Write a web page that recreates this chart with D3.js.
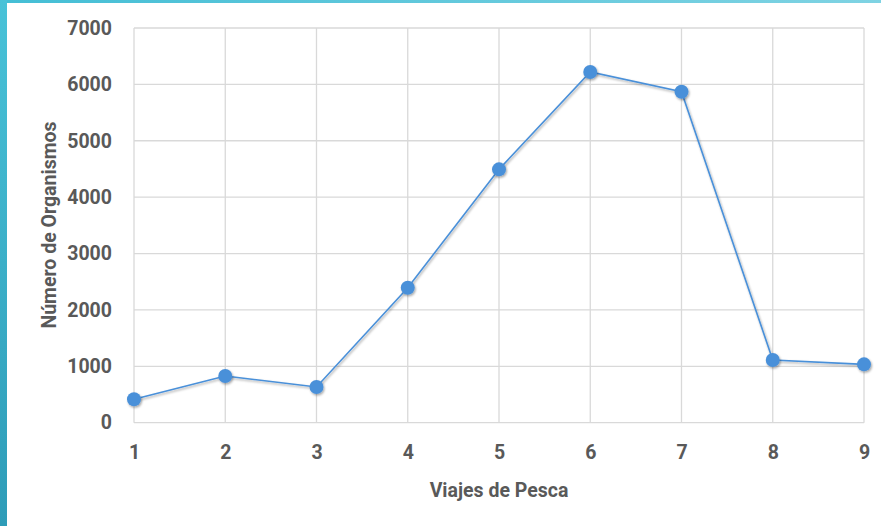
<!DOCTYPE html>
<html>
<head>
<meta charset="utf-8">
<script src="https://cdn.jsdelivr.net/npm/d3@7"></script>
<style>
  html, body { margin: 0; padding: 0; background: #fff; }
  svg { display: block; }
</style>
</head>
<body>
<svg id="chart" width="881" height="526"></svg>
<script>
const trips = [1, 2, 3, 4, 5, 6, 7, 8, 9];
const organisms = [415, 828, 633, 2394, 4493, 6220, 5869, 1112, 1035];
const yTicks = [0, 1000, 2000, 3000, 4000, 5000, 6000, 7000];
const xTitle = "Viajes de Pesca";
const yTitle = "Número de Organismos";

const W = 881, H = 526;
const m = { left: 134, right: 17, top: 28, bottom: 103.3 };
const svg = d3.select("#chart");

const defs = svg.append("defs");
const lg = defs.append("linearGradient").attr("id", "leftStrip").attr("x1", 0).attr("y1", 0).attr("x2", 0).attr("y2", 1);
lg.append("stop").attr("offset", "0%").attr("stop-color", "#48c2d8");
lg.append("stop").attr("offset", "100%").attr("stop-color", "#2e9cb8");
const tg = defs.append("linearGradient").attr("id", "topStrip").attr("x1", 0).attr("y1", 0).attr("x2", 1).attr("y2", 0);
tg.append("stop").attr("offset", "0%").attr("stop-color", "#44bed5");
tg.append("stop").attr("offset", "100%").attr("stop-color", "#7fd3e3");
const sh = defs.append("filter").attr("id", "shadow").attr("x", "-50%").attr("y", "-50%").attr("width", "200%").attr("height", "200%");
sh.append("feDropShadow").attr("dx", 1).attr("dy", 1.5).attr("stdDeviation", 1.3).attr("flood-color", "#000").attr("flood-opacity", 0.35);

svg.append("rect").attr("x", 0).attr("y", 0).attr("width", W).attr("height", H).attr("fill", "#fff");
svg.append("rect").attr("x", 0).attr("y", 0).attr("width", W).attr("height", 3).attr("fill", "url(#topStrip)");
svg.append("rect").attr("x", 0).attr("y", 0).attr("width", 7).attr("height", H).attr("fill", "url(#leftStrip)");

const x = d3.scaleLinear().domain([1, 9]).range([m.left, W - m.right]);
const y = d3.scaleLinear().domain([0, 7000]).range([H - m.bottom, m.top]);

const font = "Roboto, 'Open Sans', sans-serif";
const textColor = "#595959";
const gridColor = "#d9d9d9";

// horizontal gridlines
svg.append("g").selectAll("line").data(yTicks).join("line")
  .attr("x1", m.left).attr("x2", W - m.right)
  .attr("y1", d => y(d)).attr("y2", d => y(d))
  .attr("stroke", gridColor).attr("stroke-width", 1.3);
// vertical gridlines
svg.append("g").selectAll("line").data(trips).join("line")
  .attr("x1", d => x(d)).attr("x2", d => x(d))
  .attr("y1", y(0)).attr("y2", y(7000))
  .attr("stroke", gridColor).attr("stroke-width", 1.3);

// axes (labels only)
const yAxis = d3.axisLeft(y).tickValues(yTicks).tickSize(0).tickPadding(22).tickFormat(d3.format("d"));
const gy = svg.append("g").attr("transform", `translate(${m.left},0)`).call(yAxis);
gy.select(".domain").remove();
gy.selectAll("text").attr("font-family", font).attr("font-weight", "bold").attr("font-size", 19.5).attr("fill", textColor);

const xAxis = d3.axisBottom(x).tickValues(trips).tickSize(0).tickPadding(22).tickFormat(d3.format("d"));
const gx = svg.append("g").attr("transform", `translate(0,${y(0)})`).call(xAxis);
gx.select(".domain").remove();
gx.selectAll("text").attr("font-family", font).attr("font-weight", "bold").attr("font-size", 19.5).attr("fill", textColor);

// line
const pts = trips.map((t, i) => [t, organisms[i]]);
const line = d3.line().x(d => x(d[0])).y(d => y(d[1]));
svg.append("path").datum(pts).attr("d", line)
  .attr("fill", "none").attr("stroke", "#4a90d9").attr("stroke-width", 1.6)
  .attr("filter", "url(#shadow)");

svg.append("g").selectAll("circle").data(pts).join("circle")
  .attr("cx", d => x(d[0])).attr("cy", d => y(d[1])).attr("r", 7)
  .attr("fill", "#4a90d9").attr("filter", "url(#shadow)");

// titles
svg.append("text").attr("x", (m.left + W - m.right) / 2).attr("y", 497)
  .attr("text-anchor", "middle").attr("font-family", font).attr("font-weight", "bold")
  .attr("font-size", 19.5).attr("fill", textColor).text(xTitle);

svg.append("text").attr("transform", `translate(56,225) rotate(-90)`)
  .attr("text-anchor", "middle").attr("font-family", font).attr("font-weight", "bold")
  .attr("font-size", 19.5).attr("fill", textColor).text(yTitle);
</script>
</body>
</html>
